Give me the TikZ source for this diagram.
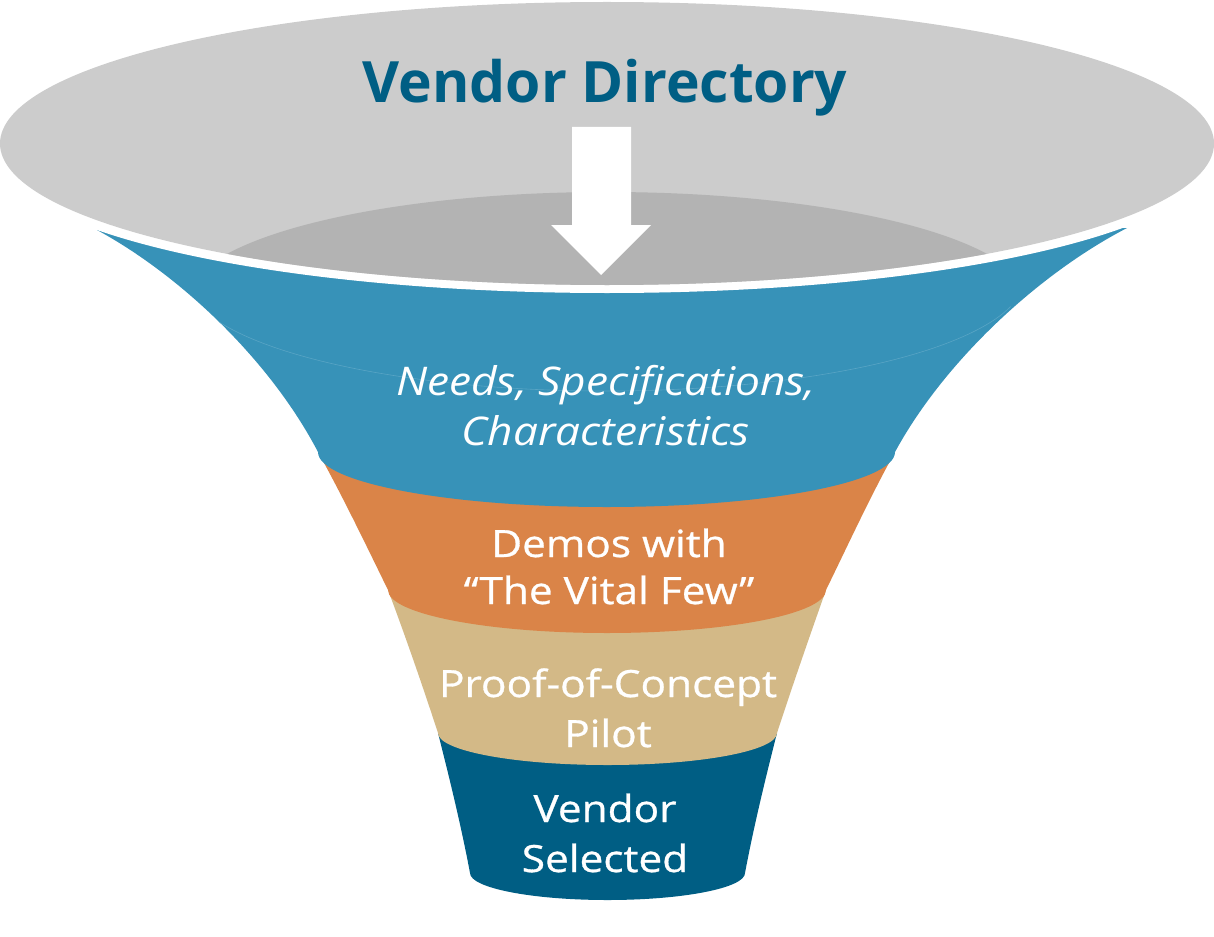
\documentclass[tikz,border=0pt]{standalone}
\usepackage{fontspec}
\setmainfont{Open Sans}
\newfontfamily\bodyfont[FakeStretch=1.13,FakeBold=0.8]{Open Sans}
\newfontfamily\itfont[FakeStretch=1.12]{Open Sans Italic}
\definecolor{grayOuter}{HTML}{CCCCCC}
\definecolor{grayInner}{HTML}{B3B3B3}
\definecolor{cBlue}{HTML}{3792B8}
\definecolor{cOrange}{HTML}{DA8448}
\definecolor{cTan}{HTML}{D3B987}
\definecolor{cDark}{HTML}{005E84}
\definecolor{cFaint}{HTML}{6FB1CE}
\begin{document}
\begin{tikzpicture}[x=1pt,y=-1pt,
  titletext/.style={text=cDark,font=\fontsize{57}{68}\selectfont\bfseries,anchor=base,inner sep=0pt},
  itext/.style={text=white,font=\itfont\fontsize{39.5}{46}\selectfont,anchor=base,inner sep=0pt},
  btext/.style={text=white,font=\bodyfont\fontsize{37.5}{44}\selectfont,anchor=base,inner sep=0pt}]
\useasboundingbox (0,0) rectangle (1214,936);
% bottom segment
\fill[cDark] (438,733) .. controls (450,780) and (462,830) .. (470,873)
  arc[start angle=180,end angle=0,x radius=137.5,y radius=27]
  .. controls (753,830) and (765,780) .. (777,733) -- cycle;
% tan segment
\fill[cTan] (388,590) .. controls (405,635) and (424,690) .. (438,733)
  arc[start angle=180,end angle=0,x radius=169.5,y radius=32]
  .. controls (791,690) and (810,635) .. (826,590) -- cycle;
% orange segment
\fill[cOrange] (318,452) .. controls (342,495) and (366,545) .. (388,590)
  arc[start angle=180,end angle=0,x radius=219,y radius=43]
  .. controls (848,545) and (871,495) .. (895,452) -- cycle;
% blue segment
\begin{scope}
\path[fill=cBlue,save path=\bluepath] (97,230) .. controls (180,275) and (270,360) .. (318,452)
  arc[start angle=180,end angle=0,x radius=288.5,y radius=55]
  .. controls (945,360) and (1040,273) .. (1127,228) -- cycle;
\clip[use path=\bluepath];
% faint inner division
\draw[cFaint,line width=0.6pt,opacity=0.6] (199.3,306.5) arc[start angle=165,end angle=15,x radius=420,y radius=114];
\end{scope}
% white gap and top ellipse
\fill[white] (607,154) ellipse[x radius=609,y radius=139];
\fill[grayOuter] (607,143.5) ellipse[x radius=607,y radius=141.5];
\begin{scope}
  \clip (607,143.5) ellipse[x radius=607,y radius=141.5];
  \fill[grayInner] (607,300) ellipse[x radius=420,y radius=108];
\end{scope}
% arrow
\fill[white] (572,127) -- (631,127) -- (631,225) -- (651,225) -- (601,275) -- (551,225) -- (572,225) -- cycle;
% texts
\node[titletext] (title) at (605,103) {Vendor Directory};
\node[itext] (n1) at (606,395) {Needs, Specifications,};
\node[itext] (n2) at (606,445) {Characteristics};
\node[btext] (d1) at (609,557) {Demos with};
\node[btext] (d2) at (609,604) {“The Vital Few”};
\node[btext] (p1) at (608,697) {Proof-of-Concept};
\node[btext] (p2) at (608,747) {Pilot};
\node[btext] (v1) at (605,822) {Vendor};
\node[btext] (v2) at (605,872) {Selected};
\end{tikzpicture}
\end{document}
